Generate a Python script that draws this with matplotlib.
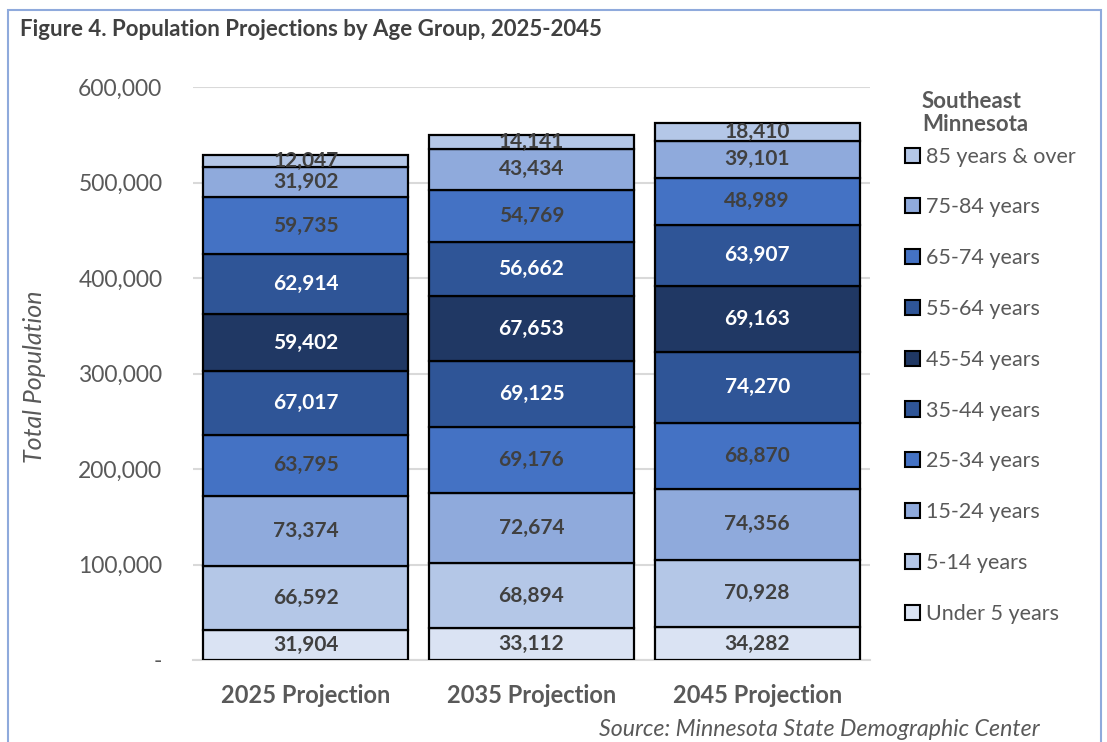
import matplotlib
matplotlib.use("Agg")
import matplotlib.pyplot as plt
from matplotlib.patches import Patch, Rectangle
from matplotlib.ticker import FuncFormatter

plt.rcParams['font.family'] = ['Lato', 'DejaVu Sans']

categories = ["2025 Projection", "2035 Projection", "2045 Projection"]
age_groups = ["Under 5 years", "5-14 years", "15-24 years", "25-34 years", "35-44 years",
              "45-54 years", "55-64 years", "65-74 years", "75-84 years", "85 years & over"]
under5 = [31904, 33112, 34282]
y5_14 = [66592, 68894, 70928]
y15_24 = [73374, 72674, 74356]
y25_34 = [63795, 69176, 68870]
y35_44 = [67017, 69125, 74270]
y45_54 = [59402, 67653, 69163]
y55_64 = [62914, 56662, 63907]
y65_74 = [59735, 54769, 48989]
y75_84 = [31902, 43434, 39101]
y85_over = [12047, 14141, 18410]
series = [under5, y5_14, y15_24, y25_34, y35_44, y45_54, y55_64, y65_74, y75_84, y85_over]

colors = ["#DAE3F3", "#B4C7E7", "#8FAADC", "#4472C4", "#2F5597",
          "#203864", "#2F5597", "#4472C4", "#8FAADC", "#B4C7E7"]
label_colors = ["#404040", "#404040", "#404040", "#404040", "white",
                "white", "white", "#404040", "#404040", "#404040"]

W, H = 1107, 742
fig = plt.figure(figsize=(W / 100, H / 100), dpi=100)
ax = fig.add_axes([193 / W, 1 - 660 / H, (870 - 193) / W, (660 - 87) / H])

x = list(range(len(categories)))
bottom = [0, 0, 0]
for vals, col, lc, name in zip(series, colors, label_colors, age_groups):
    bars = ax.bar(x, vals, width=0.908, bottom=bottom, color=col, edgecolor="black",
                  linewidth=1.6, label=name, zorder=3)
    ax.bar_label(bars, labels=[f"{v:,}" for v in vals], label_type="center",
                 color=lc, fontsize=15, fontweight="bold", zorder=4)
    bottom = [b + v for b, v in zip(bottom, vals)]

ax.set_xlim(-0.5, 2.5)
ax.set_ylim(0, 600000)
ax.set_yticks(range(0, 600001, 100000))
ax.yaxis.set_major_formatter(FuncFormatter(lambda v, p: "-" if v == 0 else f"{int(v):,}"))
ax.grid(axis="y", color="#D9D9D9", linewidth=1.5, zorder=0)
for s in ["top", "right", "left"]:
    ax.spines[s].set_visible(False)
ax.spines["bottom"].set_color("#D9D9D9")
ax.spines["bottom"].set_linewidth(1.5)
ax.tick_params(axis="both", length=0)
ax.tick_params(axis="y", labelsize=16.5, labelcolor="#595959", pad=22)
ax.set_xticks(x)
ax.set_xticklabels(categories, fontsize=17, fontweight="bold", color="#595959")
ax.tick_params(axis="x", pad=17)

fig.text(35 / W, 1 - 377 / H, "Total Population", rotation=90, style="italic",
         fontsize=18, color="#595959", ha="center", va="center")

fig.text(20 / W, 1 - 30 / H, "Figure 4. Population Projections by Age Group, 2025-2045",
         fontsize=16, fontweight="bold", color="#404040", ha="left", va="center")

fig.text(1040 / W, 1 - 730 / H, "Source: Minnesota State Demographic Center",
         fontsize=16.7, style="italic", color="#595959", ha="right", va="center")

fig.text(922 / W, 1 - 113 / H, "Southeast\nMinnesota", fontsize=16, fontweight="bold",
         color="#595959", ha="left", va="center", linespacing=1.15)

handles = [Patch(facecolor=c, edgecolor="black", linewidth=1.5) for c in colors][::-1]
labels = age_groups[::-1]
leg = fig.legend(handles, labels, loc="upper left", bbox_to_anchor=(896 / W, 1 - 138 / H),
                 frameon=False, fontsize=15.5, labelcolor="#595959", handlelength=0.7,
                 handleheight=0.7, handletextpad=0.3, labelspacing=1.43, borderaxespad=0)

fig.patches.append(Rectangle((8 / W, -0.05), (1101 - 8) / W, 1 - 10 / H + 0.05,
                             transform=fig.transFigure, fill=False, edgecolor="#8FAADC",
                             linewidth=1.5))

fig.savefig("out.png", dpi=100)
